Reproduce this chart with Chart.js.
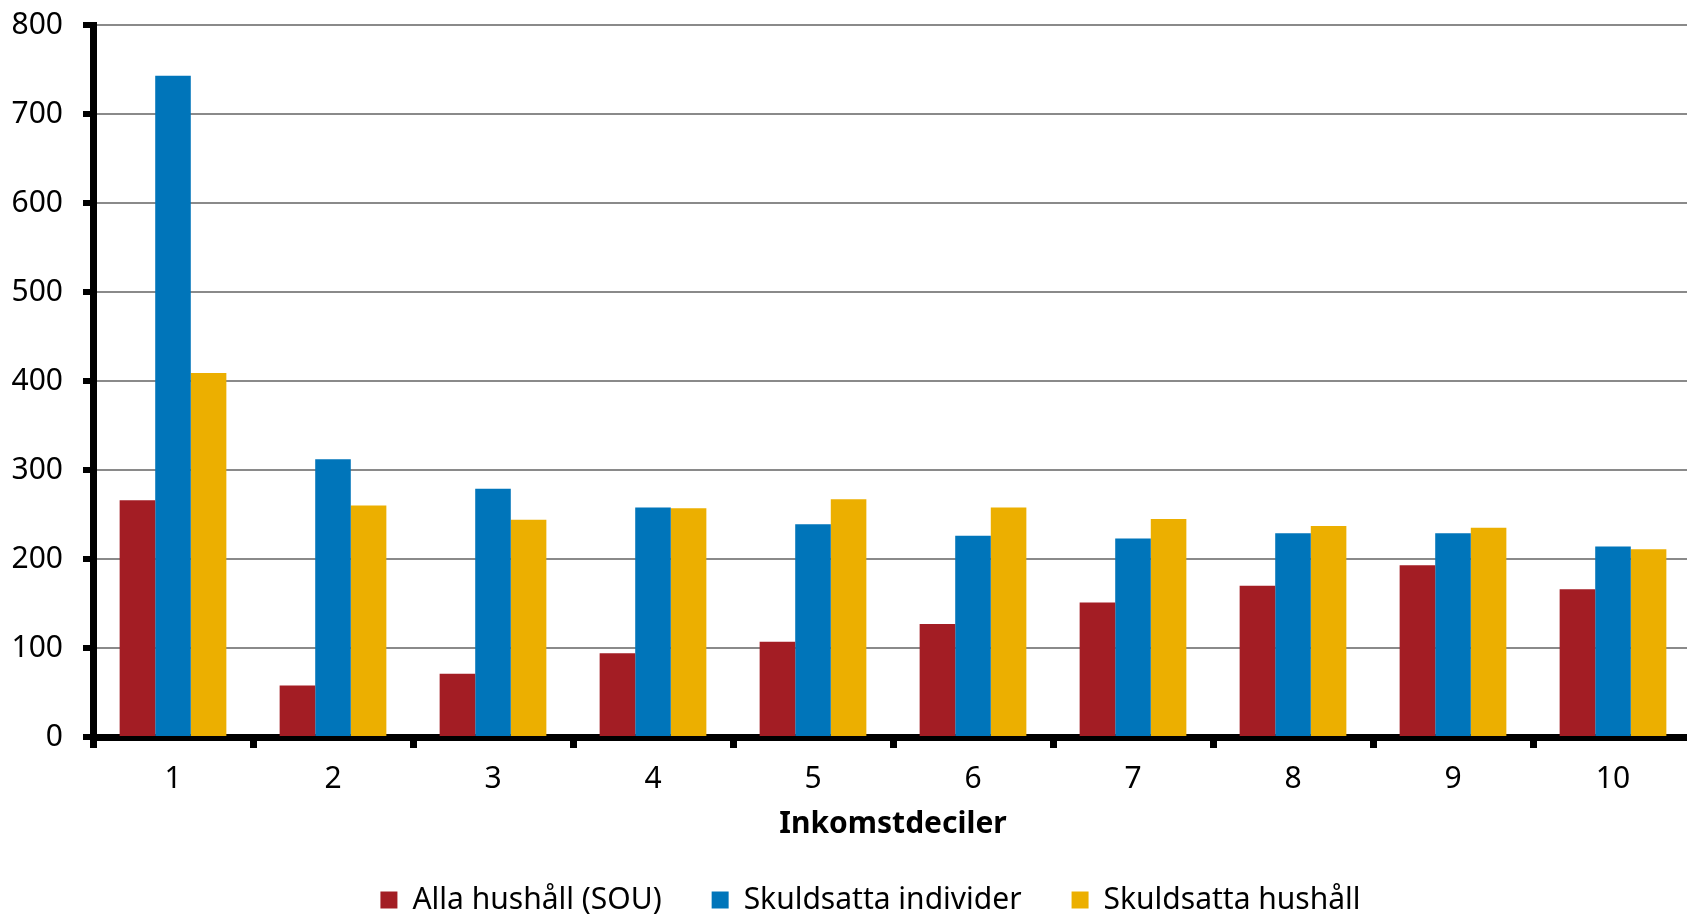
<!DOCTYPE html>
<html>
<head>
<meta charset="utf-8">
<script src="https://cdn.jsdelivr.net/npm/chart.js@4"></script>
<style>
  html, body { margin: 0; padding: 0; background: #fff; overflow: hidden; }
  /* lite bredare/högre än fönstret: diagramytan går ut till kanten */
  #wrap { width: 1693px; height: 925px; }
</style>
</head>
<body>
<div id="wrap"><canvas id="chart"></canvas></div>
<script>
// Inkomstdeciler 1-10
const deciles = ["1", "2", "3", "4", "5", "6", "7", "8", "9", "10"];

// Serier
const allaHushall = [266, 58, 71, 94, 107, 127, 151, 170, 193, 166];
const skuldsattaIndivider = [743, 312, 279, 258, 239, 226, 223, 229, 229, 214];
const skuldsattaHushall = [409, 260, 244, 257, 267, 258, 245, 237, 235, 211];

const yTicks = [0, 100, 200, 300, 400, 500, 600, 700, 800];

const FONT = "'Noto Sans', 'Open Sans', sans-serif";

// flytta förklaringen lite åt höger
const legendShift = {
  id: "legendShift",
  afterLayout(chart) {
    chart.legend.left += 24;
    chart.legend.right += 24;
  },
};

const ctx = document.getElementById("chart").getContext("2d");

new Chart(ctx, {
  type: "bar",
  data: {
    labels: deciles,
    datasets: [
      { label: "Alla hushåll (SOU)", data: allaHushall, backgroundColor: "#A31D24" },
      { label: "Skuldsatta individer", data: skuldsattaIndivider, backgroundColor: "#0075BA" },
      { label: "Skuldsatta hushåll", data: skuldsattaHushall, backgroundColor: "#ECAF00" },
    ],
  },
  plugins: [legendShift],
  options: {
    responsive: true,
    maintainAspectRatio: false,
    animation: false,
    layout: { padding: { top: 25, right: 0, bottom: 0, left: 0 } },
    datasets: {
      bar: { categoryPercentage: 0.667, barPercentage: 1.0 },
    },
    scales: {
      x: {
        afterFit: (axis) => {
          axis.height = 98;
          axis.paddingLeft = 0;
          axis.paddingRight = 0;
        },
        grid: {
          drawOnChartArea: false,
          drawTicks: true,
          tickLength: 11,
          tickWidth: 7,
          tickColor: "#000",
        },
        border: { display: true, color: "#000", width: 7 },
        ticks: { color: "#000", padding: 13, font: { family: FONT, size: 30 } },
        title: {
          display: true,
          text: "Inkomstdeciler",
          color: "#000",
          font: { family: FONT, size: 30, weight: "bold" },
          padding: { top: 0, bottom: -7 },
        },
      },
      y: {
        min: 0,
        max: 800,
        afterBuildTicks: (axis) => {
          axis.ticks = yTicks.map((v) => ({ value: v }));
        },
        afterFit: (axis) => {
          axis.width = 93;
          axis.paddingTop = 0;
          axis.paddingBottom = 0;
        },
        grid: {
          color: "#8a8a8a",
          lineWidth: 2,
          drawTicks: true,
          tickLength: 10,
          tickWidth: 6,
          tickColor: "#000",
        },
        border: { display: true, color: "#000", width: 7 },
        ticks: { color: "#000", padding: 20, font: { family: FONT, size: 30 } },
      },
    },
    plugins: {
      legend: {
        position: "bottom",
        labels: {
          color: "#000",
          boxWidth: 17,
          boxHeight: 17,
          padding: 50,
          font: { family: FONT, size: 30 },
        },
      },
      tooltip: { enabled: false },
    },
  },
});
</script>
</body>
</html>
